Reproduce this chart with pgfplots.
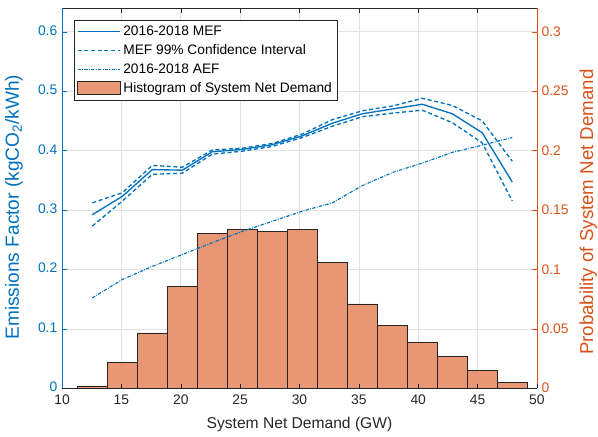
\documentclass[border=0pt]{standalone}
\usepackage{fontspec}
\setmainfont{Liberation Sans}
\usepackage{pgfplots}
\usepackage{pgfplotstable}
\pgfplotsset{compat=1.18}

\definecolor{mblue}{RGB}{0,114,189}
\definecolor{morange}{RGB}{217,83,25}
\definecolor{histfill}{RGB}{232,150,115}
\definecolor{gridc}{RGB}{226,226,226}
\definecolor{axc}{RGB}{38,38,38}

% emission factors at bin centres
\pgfplotstableread{
x     mef    upper  lower  aef
12.55 0.292  0.312  0.273  0.152
15.08 0.323  0.329  0.315  0.183
17.60 0.368  0.375  0.360  0.205
20.13 0.367  0.372  0.362  0.225
22.66 0.398  0.401  0.394  0.245
25.18 0.402  0.404  0.399  0.264
27.71 0.410  0.412  0.407  0.281
30.24 0.425  0.428  0.422  0.298
32.76 0.446  0.452  0.441  0.312
35.29 0.462  0.467  0.457  0.341
37.82 0.470  0.475  0.463  0.363
40.34 0.478  0.488  0.468  0.379
42.87 0.462  0.476  0.447  0.397
45.39 0.430  0.450  0.413  0.409
47.92 0.347  0.382  0.315  0.422
}\eftable

% histogram: bin centres and probabilities (bin width 2.526 GW)
\pgfplotstableread{
x     prob
12.55 0.0020
15.08 0.0214
17.60 0.0465
20.13 0.0860
22.66 0.1300
25.18 0.1333
27.71 0.1321
30.24 0.1333
32.76 0.1059
35.29 0.0710
37.82 0.0532
40.34 0.0390
42.87 0.0270
45.39 0.0150
47.92 0.0050
}\histtable

\pgfplotsset{
  common/.style={
    width=356pt, height=285pt, scale only axis,
    xmin=10, xmax=50, xtick={10,15,20,25,30,35,40,45,50},
    tick align=inside, major tick length=3.5pt,
    axis line style={-},
    tick label style={font=\fontsize{10.4}{12}\selectfont},
    ylabel style={font=\fontsize{14}{16}\selectfont},
  }
}

\begin{document}
\begin{tikzpicture}
\path[use as bounding box] (-46.5pt,-36pt) rectangle (401.75pt,291pt);
% right axis: histogram and grid
\begin{axis}[common,
  ymin=0, ymax=0.32, ytick={0,0.05,0.1,0.15,0.2,0.25,0.3},
  yticklabels={0,0.05,0.1,0.15,0.2,0.25,0.3},
  axis y line*=right, axis x line*=top, xticklabels={},
  grid=major, grid style={gridc, line width=0.4pt},
  x axis line style={axc}, x tick style={axc},
  y axis line style={morange}, y tick style={morange},
  yticklabel style={morange},
  ylabel={Probability of System Net Demand},
  ylabel style={morange, at={(rel axis cs:1,0.5)}, anchor=center,
    xshift=-10.5pt, yshift=-38.5pt},
]
\addplot[ybar, bar width=2.526, bar shift=0pt, fill=histfill, draw=black!85, line width=0.5pt] table[x=x, y=prob] {\histtable};
\end{axis}
% left axis: emission factors
\begin{axis}[common,
  ymin=0, ymax=0.64, ytick={0,0.1,0.2,0.3,0.4,0.5,0.6},
  yticklabels={0,0.1,0.2,0.3,0.4,0.5,0.6},
  xticklabels={10,15,20,25,30,35,40,45,50},
  axis y line*=left, axis x line*=bottom,
  x axis line style={axc}, x tick style={axc}, xticklabel style={axc, yshift=-1.5pt},
  y axis line style={mblue}, y tick style={mblue},
  yticklabel style={mblue, yshift=1pt},
  xlabel={System Net Demand (GW)},
  xlabel style={axc, font=\fontsize{11.7}{14}\selectfont, at={(rel axis cs:0.5,0)},
    anchor=center, yshift=-27pt},
  ylabel={Emissions Factor (kgCO\textsubscript{2}/kWh)},
  ylabel style={mblue, font=\fontsize{14.3}{16}\selectfont, at={(rel axis cs:0,0.5)},
    anchor=center, xshift=-6.75pt, yshift=36pt},
  legend style={at={(0.025,0.968)}, anchor=north west, draw=axc, fill=white,
    font=\fontsize{10.3}{12}\selectfont, cells={anchor=west}, inner sep=2pt, row sep=1.5pt},
  legend image code/.code={\draw[#1] (0cm,0cm) -- (1.12cm,0cm);},
]
\addplot[mblue, line width=1pt] table[x=x, y=mef] {\eftable};
\addlegendentry{2016-2018 MEF}
\addplot[mblue, line width=1pt, dash pattern=on 3pt off 2pt] table[x=x, y=upper] {\eftable};
\addlegendentry{MEF 99\% Confidence Interval}
\addplot[mblue, line width=1pt, dash pattern=on 3pt off 2pt, forget plot] table[x=x, y=lower] {\eftable};
\addplot[mblue, line width=0.85pt, dash pattern=on 2.5pt off 1pt on 0.6pt off 1pt] table[x=x, y=aef] {\eftable};
\addlegendentry{2016-2018 AEF}
\addlegendimage{legend image code/.code={\draw[fill=histfill, draw=black!85] (0cm,-0.15cm) rectangle (1.12cm,0.2cm);}}
\addlegendentry{Histogram of System Net Demand}
\end{axis}
\end{tikzpicture}
\end{document}
